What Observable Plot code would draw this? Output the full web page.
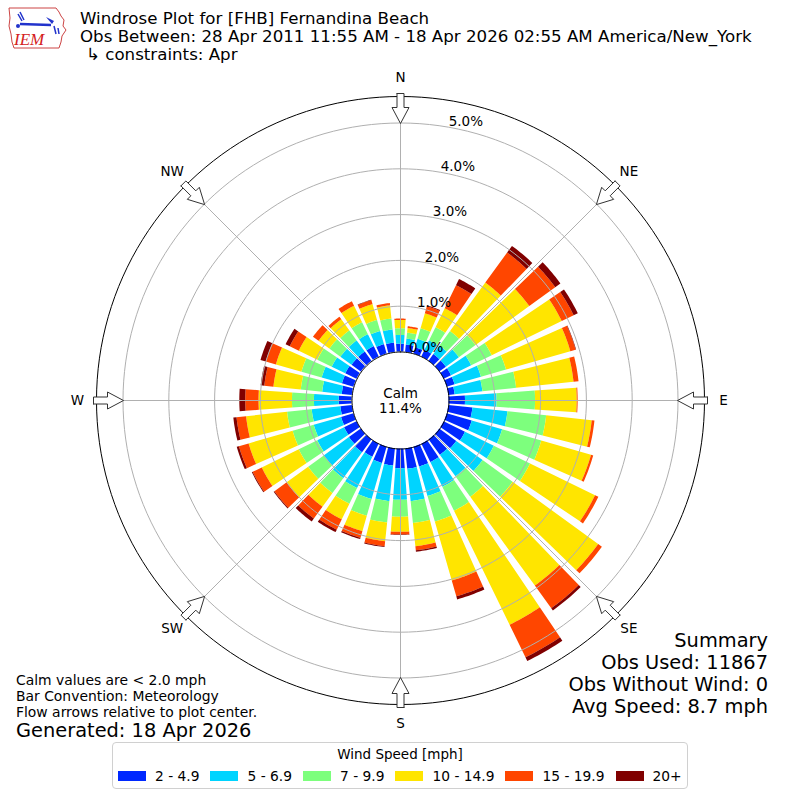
<!DOCTYPE html>
<html><head><meta charset="utf-8">
<script src="https://cdn.jsdelivr.net/npm/d3@7"></script>
<script src="https://cdn.jsdelivr.net/npm/@observablehq/plot@0.6"></script>
<style>
body{margin:0;background:#fff;font-family:"DejaVu Sans",sans-serif;}
#wrap{position:relative;width:800px;height:800px;overflow:hidden;}
.t{position:absolute;white-space:nowrap;color:#000;line-height:1;}
#legend{position:absolute;left:112px;top:742px;width:576px;height:47px;border:1px solid #d0d0d0;border-radius:4px;box-sizing:border-box;background:#fff;}
#legend .lt{position:absolute;left:0;right:0;top:3px;text-align:center;font-size:13.5px;white-space:nowrap;}
#legend .row{position:absolute;left:5px;top:25px;display:flex;align-items:center;font-size:13.8px;white-space:nowrap;}
#legend .sw{width:28px;height:10px;margin-right:9px;flex:none;}
#legend .lb{margin-right:11px;flex:none;white-space:nowrap;}
</style></head><body><div id="wrap"></div>
<script>
// ---- data ----
const directions = d3.range(0, 360, 10);
const binLabels = ["2 - 4.9", "5 - 6.9", "7 - 9.9", "10 - 14.9", "15 - 19.9", "20+"];
const binColors = ["#0028ff", "#00d4ff", "#7dff7d", "#ffe500", "#ff4600", "#800000"];
// percent of observations per direction (0,10,...,350 deg) for each speed bin
const speed2to5   = [0.17,0.16,0.14,0.16,0.18,0.18,0.18,0.18,0.14,0.36,0.53,0.57,0.52,0.46,0.42,0.45,0.45,0.45,0.43,0.38,0.37,0.32,0.35,0.32,0.30,0.28,0.25,0.28,0.22,0.26,0.27,0.25,0.25,0.25,0.21,0.20];
const speed5to7   = [0.19,0.13,0.19,0.23,0.23,0.35,0.49,0.60,0.61,0.69,0.77,0.69,0.70,0.71,0.58,0.60,0.67,0.71,0.69,0.78,0.82,0.76,0.70,0.68,0.65,0.62,0.63,0.54,0.43,0.46,0.33,0.30,0.30,0.29,0.30,0.29];
const speed7to10  = [0.15,0.13,0.24,0.32,0.39,0.45,0.50,0.57,0.74,0.84,0.85,0.89,0.88,0.81,0.55,0.58,0.58,0.48,0.37,0.47,0.38,0.38,0.40,0.42,0.45,0.48,0.54,0.48,0.47,0.46,0.35,0.30,0.27,0.29,0.25,0.24];
const speed10to15 = [0.18,0.10,0.34,0.46,1.31,1.45,1.70,1.46,1.26,0.91,1.00,1.13,1.58,2.31,2.40,2.77,1.34,0.51,0.33,0.41,0.35,0.38,0.37,0.58,0.90,1.00,0.90,0.73,0.60,0.58,0.45,0.29,0.30,0.40,0.36,0.29];
const speed15to20 = [0.03,0.04,0.16,0.56,0.81,0.70,0.29,0.12,0.11,0.02,0.06,0.05,0.08,0.10,0.61,0.79,0.36,0.09,0.06,0.11,0.15,0.25,0.32,0.33,0.22,0.22,0.21,0.29,0.20,0.23,0.22,0.15,0.07,0.11,0.09,0.05];
const speed20plus = [0.00,0.00,0.02,0.15,0.18,0.14,0.10,0.01,0.00,0.00,0.00,0.00,0.00,0.00,0.06,0.09,0.07,0.03,0.01,0.02,0.03,0.06,0.08,0.02,0.02,0.05,0.07,0.13,0.08,0.12,0.10,0.00,0.00,0.00,0.01,0.00];
const calmPct = 11.4;
const ringTicks = [0, 1, 2, 3, 4, 5];
const compassLabels = ["N", "NE", "E", "SE", "S", "SW", "W", "NW"];
const titleLines = ["Windrose Plot for [FHB] Fernandina Beach",
  "Obs Between: 28 Apr 2011 11:55 AM - 18 Apr 2026 02:55 AM America/New_York",
  "↳ constraints: Apr"];
const noteLines = ["Calm values are < 2.0 mph", "Bar Convention: Meteorology", "Flow arrows relative to plot center."];
const generated = "Generated: 18 Apr 2026";
const summaryLines = ["Summary", "Obs Used: 11867", "Obs Without Wind: 0", "Avg Speed: 8.7 mph"];

// ---- geometry ----
const PX = 45.8;            // pixels per percent
const HOLE = 48.5 / PX;     // calm circle radius (in percent units)
const OUTER = 304 / PX;
const LABELR = 323 / PX;
const EXT = 400 / PX;
const rad = a => a * Math.PI / 180;
const series = [speed2to5, speed5to7, speed7to10, speed10to15, speed15to20, speed20plus];

const segs = [];
directions.forEach((dir, i) => {
  let base = 0;
  series.forEach((vals, b) => {
    const v = vals[i];
    if (v > 0) {
      const N = 10;
      for (let k = 0; k <= N; k++) {
        segs.push({id: dir + "-" + b, bin: binLabels[b], a: rad(dir - 4 + 8 * k / N), r0: HOLE + base, r1: HOLE + base + v});
      }
    }
    base += v;
  });
});

const circlePts = (r, id) => d3.range(0, 361, 2).map(a => ({id, a: rad(a), r}));
const ringPts = ringTicks.slice(1).flatMap(t => circlePts(HOLE + t, t));
const outerPts = circlePts(OUTER, "o");
const calmPts = circlePts(HOLE, "c");

const arrowShape = [[307,-3.5],[293,-3.5],[293,-8.5],[277,0],[293,8.5],[293,3.5],[307,3.5],[307,-3.5]];
const arrowPts = d3.range(0, 360, 45).flatMap(ang => arrowShape.map(([r, w]) => {
  const a = rad(ang);
  return {id: ang, x: (r * Math.sin(a) + w * Math.cos(a)) / PX, y: (r * Math.cos(a) - w * Math.sin(a)) / PX};
}));

const X = d => d.r * Math.sin(d.a), Y = d => d.r * Math.cos(d.a);

const chart = Plot.plot({
  width: 800, height: 800, margin: 0,
  x: {domain: [-EXT, EXT], axis: null},
  y: {domain: [-EXT, EXT], axis: null},
  color: {domain: binLabels, range: binColors},
  style: {fontFamily: "DejaVu Sans", background: "transparent"},
  marks: [
    Plot.area(segs, {x1: d => d.r0 * Math.sin(d.a), y1: d => d.r0 * Math.cos(d.a),
                     x2: d => d.r1 * Math.sin(d.a), y2: d => d.r1 * Math.cos(d.a), z: "id", fill: "bin"}),
    Plot.line(ringPts, {x: X, y: Y, z: "id", stroke: "#b0b0b0", strokeWidth: 1}),
    Plot.link(d3.range(0, 360, 45), {x1: a => HOLE * Math.sin(rad(a)), y1: a => HOLE * Math.cos(rad(a)),
                                    x2: a => OUTER * Math.sin(rad(a)), y2: a => OUTER * Math.cos(rad(a)), stroke: "#b0b0b0", strokeWidth: 1}),
    Plot.line(calmPts, {x: X, y: Y, stroke: "#000", strokeWidth: 1}),
    Plot.line(outerPts, {x: X, y: Y, stroke: "#000", strokeWidth: 1}),
    Plot.line(arrowPts, {x: "x", y: "y", z: "id", fill: "#fff", stroke: "#333", strokeWidth: 1}),
    Plot.text(compassLabels, {x: (d, i) => LABELR * Math.sin(rad(i * 45)), y: (d, i) => LABELR * Math.cos(rad(i * 45)),
                              text: d => d, fontSize: 13.5, fill: "#000"}),
    Plot.text(ringTicks, {x: t => (HOLE + t) * Math.sin(rad(10)), y: t => (HOLE + t) * Math.cos(rad(10)),
                          text: t => t.toFixed(1) + "%", textAnchor: "start", lineAnchor: "bottom", dy: -1, fontSize: 13.5, fill: "#000"}),
    Plot.text([`Calm\n${calmPct.toFixed(1)}%`], {x: 0, y: 0, text: d => d, fontSize: 13.5, lineHeight: 1.12, fill: "#000"})
  ]
});
const wrap = document.getElementById("wrap");
chart.style.position = "absolute"; chart.style.left = "0"; chart.style.top = "0";
wrap.appendChild(chart);

function addText(str, left, top, size, opts = {}) {
  const d = document.createElement("div");
  d.className = "t"; d.textContent = str;
  d.style.fontSize = size + "px"; d.style.top = top + "px";
  if (opts.right != null) { d.style.right = opts.right + "px"; d.style.textAlign = "right"; }
  else d.style.left = left + "px";
  wrap.appendChild(d);
}
// title
addText(titleLines[0], 80, 11, 16.67);
addText(titleLines[1], 80, 28.5, 16.67);
addText(titleLines[2], 86, 46.5, 16.67);
// notes
noteLines.forEach((s, i) => addText(s, 16, 674 + i * 16, 13.9));
addText(generated, 16, 721, 19.4);
summaryLines.forEach((s, i) => addText(s, 0, 631 + i * 22, 19.4, {right: 32}));

// logo
const logo = document.createElement("div");
logo.style.cssText = "position:absolute;left:6px;top:4px;width:62px;height:48px;";
logo.innerHTML = `<svg width="62" height="48" viewBox="0 0 62 48">
<path d="M3,4 L50,4 L53,8 L55,12 L58,16 L57,22 L60,26 L56,32 L55,38 L53,44 L8,44 L6,38 L5,30 L3,22 L4,14 Z" fill="none" stroke="#c44" stroke-width="1"/>
<path d="M14,20 L45,21" stroke="#2233cc" stroke-width="2.5"/>
<path d="M40,13 L48,17 L46,20 Z" fill="#2233cc"/>
<path d="M14,8 L18,16 M12,10 L16,17" stroke="#2233cc" stroke-width="1.5"/>
<circle cx="12" cy="22" r="2" fill="#2233cc"/>
<path d="M48,22 L50,30 M52,24 L53,30" stroke="#2233cc" stroke-width="1.5"/>
<text x="8" y="41" font-family="Liberation Serif, serif" font-style="italic" font-size="17" fill="#d42020">IEM</text>
</svg>`;
wrap.appendChild(logo);

// legend
const lg = document.createElement("div");
lg.id = "legend";
lg.innerHTML = `<div class="lt">Wind Speed [mph]</div><div class="row">` +
  binLabels.map((b, i) => `<div class="sw" style="background:${binColors[i]}"></div><div class="lb">${b}</div>`).join("") + `</div>`;
wrap.appendChild(lg);
</script></body></html>
